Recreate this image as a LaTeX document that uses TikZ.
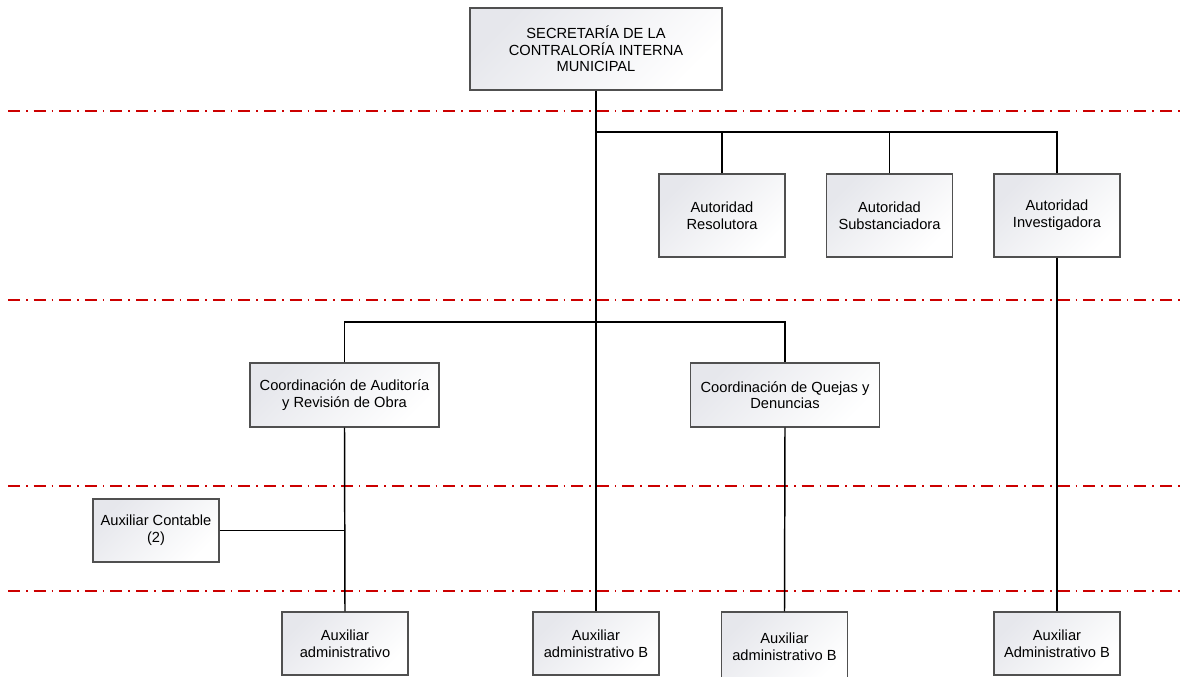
\documentclass[tikz,border=0pt]{standalone}
\usepackage{fontspec}
\setmainfont{Liberation Sans}
\definecolor{redline}{HTML}{CC0000}
\definecolor{boxedge}{HTML}{505050}
\definecolor{boxshade}{HTML}{E6E7EC}
\tikzset{
    puesto/.style={draw=boxedge, line width=0.9pt, top color=boxshade,
        bottom color=white, shading angle=45, align=center, inner sep=0pt,
        font=\fontsize{11}{12.5}\selectfont},
    titular/.style={puesto, minimum width=189pt, minimum height=61.5pt},
    autoridad/.style={puesto, minimum width=94.5pt, minimum height=62.25pt},
    coordina/.style={puesto, minimum width=141.75pt, minimum height=48pt},
    auxiliar/.style={puesto, minimum width=94.5pt, minimum height=47.25pt},
    enlace/.style={line width=1.1pt},
    nivel/.style={redline, line width=0.9pt,
        dash pattern=on 9pt off 4.5pt on 1.2pt off 4.5pt}
}
\begin{document}
\begin{tikzpicture}[x=0.75pt, y=-0.75pt]
            \useasboundingbox (0, 0) rectangle (1182, 676);
            % niveles
            \foreach \y in {111, 300, 486, 591} {
                \draw[nivel] (8, \y) -- (1182, \y);
            }
            \node[titular] (sec) at (596, 49) {
                SECRETARÍA DE LA\\CONTRALORÍA INTERNA\\MUNICIPAL
            };
            \node[autoridad] (res) at (722, 215.5) {
                Autoridad\\Resolutora
            };
            \node[autoridad] (sub) at (889.5, 215.5) {
                Autoridad\\Substanciadora
            };
            \node[autoridad] (inv) at (1057, 215.5) {
                Autoridad\\Investigadora
            };
            \node[coordina] (coa) at (344.5, 395) {
                Coordinación de Auditoría\\y Revisión de Obra
            };
            \node[coordina] (coq) at (785, 395) {
                Coordinación de Quejas y\\Denuncias
            };
            \node[auxiliar] (auc) at (156, 530.5) {
                Auxiliar Contable\\(2)
            };
            \node[auxiliar] (aua) at (345, 643.5) {
                Auxiliar\\administrativo
            };
            \node[auxiliar] (aub) at (596, 643.5) {
                Auxiliar\\administrativo B
            };
            \node[auxiliar, minimum height=52.5pt] (auq) at (784.5, 647) {
                Auxiliar\\administrativo B
            };
            \node[auxiliar] (aui) at (1057, 643.5) {
                Auxiliar\\Administrativo B
            };
            % enlaces
            \coordinate (r1) at (sec.south |- 0, 132);
            \coordinate (r2) at (sec.south |- 0, 322);
            \draw[enlace] (sec.south) -- (aub.north);
            \draw[enlace] (r1) -| (inv.north);
            \draw[enlace] (res.north) |- (r1);
            \draw[enlace] (sub.north) |- (r1);
            \draw[enlace] (coa.north) |- (r2) -| (coq.north);
            \draw[enlace] (inv.south) -- (aui.north);
            \draw[enlace] (coa.south) -- (aua.north);
            \draw[enlace] (coq.south) -- (auq.north);
            \draw[enlace] (auc.east) -- (auc.east -| coa.south);
        \end{tikzpicture}
\end{document}
